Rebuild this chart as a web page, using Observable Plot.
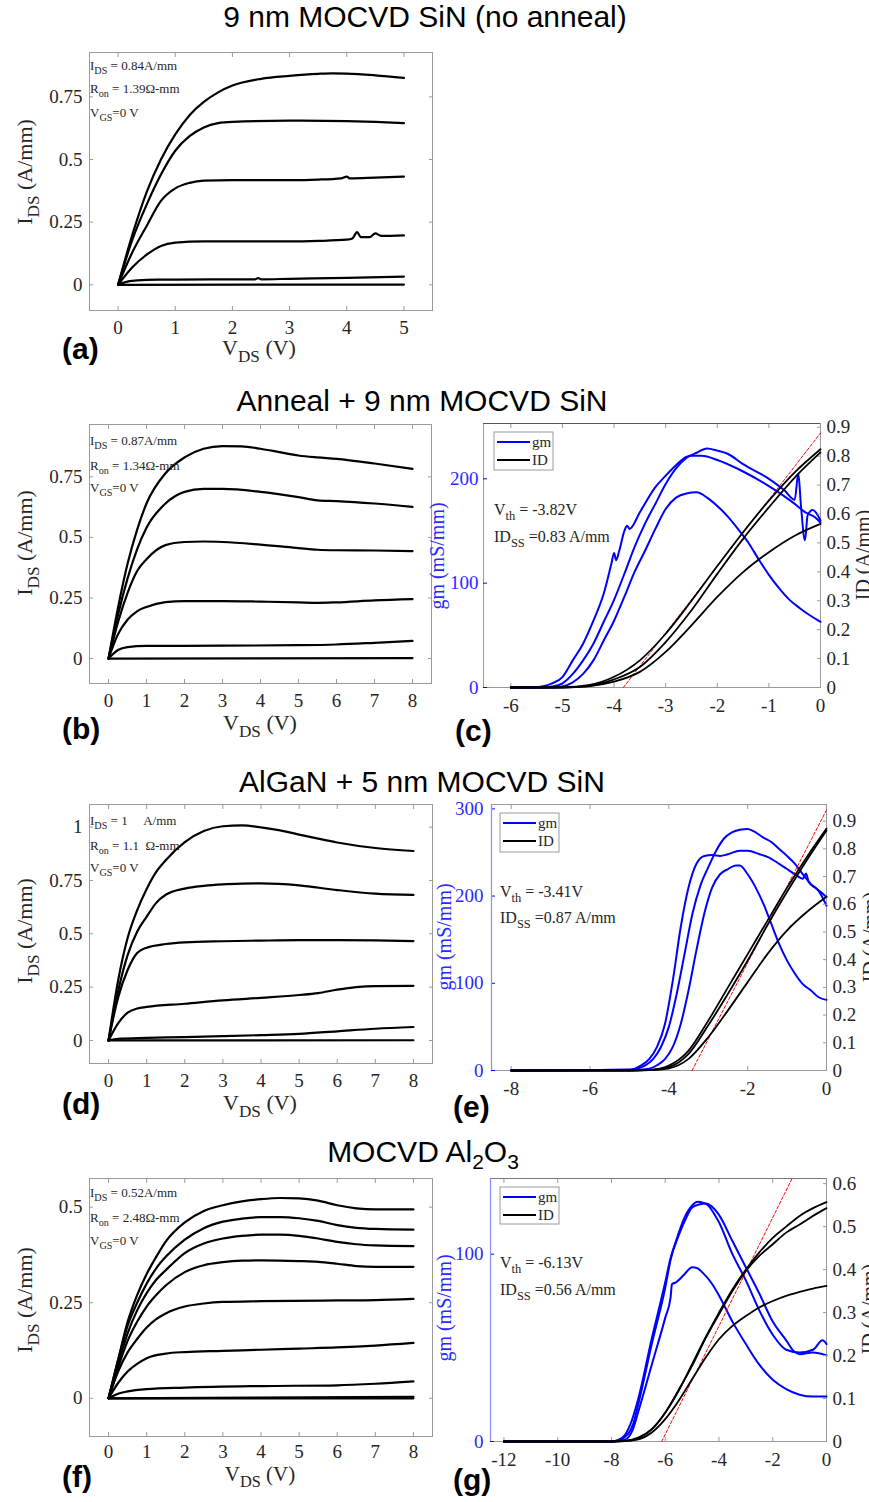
<!DOCTYPE html>
<html><head><meta charset="utf-8">
<script src="https://cdn.jsdelivr.net/npm/d3@7"></script>
<script src="https://cdn.jsdelivr.net/npm/@observablehq/plot@0.6"></script>
<style>
html,body{margin:0;padding:0;background:#fff;}
body{width:869px;height:1502px;position:relative;overflow:hidden;}
</style></head>
<body>
<script>
// ---------- tick values ----------
const aXTicks = [0,1,2,3,4,5];
const bXTicks = [0,1,2,3,4,5,6,7,8];
const aYTicks = [0,0.25,0.5,0.75];
const dYTicks = [0,0.25,0.5,0.75,1];
const fYTicks = [0,0.25,0.5];
const cXTicks = [-6,-5,-4,-3,-2,-1,0];
const eXTicks = [-8,-6,-4,-2,0];
const gXTicks = [-12,-10,-8,-6,-4,-2,0];
const cGmTicks = [0,100,200];
const eGmTicks = [0,100,200,300];
const gGmTicks = [0,100];
const cIdTicks = [0,0.1,0.2,0.3,0.4,0.5,0.6,0.7,0.8,0.9];
const gIdTicks = [0,0.1,0.2,0.3,0.4,0.5,0.6];

// ---------- (a) output curves, no anneal: [VDS, IDS] ----------
const a1 = [[0,0],[0.25,0.2],[0.5,0.37],[0.75,0.5],[1,0.6],[1.25,0.677],[1.5,0.73],[1.75,0.768],[2,0.795],[2.5,0.822],[3,0.834],[3.5,0.842],[3.75,0.844],[4,0.843],[4.5,0.836],[5,0.826]];
const a2 = [[0,0],[0.25,0.18],[0.5,0.32],[0.75,0.44],[1,0.535],[1.25,0.593],[1.5,0.628],[1.75,0.645],[2,0.65],[3,0.655],[4,0.653],[4.5,0.65],[5,0.645]];
const a3 = [[0,0],[0.25,0.13],[0.5,0.235],[0.75,0.335],[1,0.385],[1.25,0.407],[1.5,0.416],[2,0.418],[3,0.418],[3.5,0.42],[3.9,0.425],[4,0.432],[4.05,0.425],[4.5,0.428],[5,0.432]];
const a4 = [[0,0],[0.25,0.07],[0.5,0.12],[0.75,0.155],[1,0.168],[1.5,0.173],[2,0.173],[3,0.173],[3.5,0.175],[4,0.18],[4.1,0.185],[4.18,0.21],[4.25,0.19],[4.4,0.19],[4.5,0.205],[4.6,0.195],[5,0.197]];
const a5 = [[0,0],[0.2,0.015],[0.5,0.02],[1,0.021],[2,0.022],[2.4,0.022],[2.45,0.027],[2.5,0.022],[3,0.024],[4,0.028],[5,0.033]];
const a6 = [[0,0],[5,0.001]];

// ---------- (b) output curves, anneal + 9 nm ----------
const b1 = [[0,0],[0.25,0.21],[0.5,0.39],[0.75,0.53],[1,0.64],[1.5,0.765],[2,0.83],[2.5,0.866],[3,0.877],[3.5,0.876],[4,0.866],[4.5,0.852],[5,0.838],[5.5,0.83],[6,0.824],[7,0.805],[8,0.783]];
const b2 = [[0,0],[0.25,0.18],[0.5,0.33],[0.75,0.45],[1,0.54],[1.5,0.64],[2,0.688],[2.5,0.7],[3,0.7],[4,0.688],[5,0.666],[5.5,0.653],[6,0.65],[7,0.64],[8,0.626]];
const b3 = [[0,0],[0.25,0.15],[0.5,0.27],[0.75,0.36],[1,0.41],[1.5,0.468],[2,0.481],[2.5,0.483],[3,0.481],[4,0.47],[5,0.456],[5.5,0.449],[6,0.447],[7,0.446],[8,0.443]];
const b4 = [[0,0],[0.25,0.1],[0.5,0.16],[0.75,0.195],[1,0.213],[1.5,0.233],[2,0.237],[3,0.237],[4,0.235],[5,0.232],[5.5,0.23],[6,0.232],[7,0.24],[8,0.245]];
const b5 = [[0,0],[0.25,0.035],[0.5,0.047],[1,0.052],[3,0.053],[5,0.055],[6,0.058],[7,0.065],[8,0.073]];
const b6 = [[0,0],[8,0.002]];

// ---------- (d) output curves, AlGaN + 5 nm ----------
const d1 = [[0,0],[0.25,0.28],[0.5,0.48],[0.75,0.61],[1,0.71],[1.25,0.79],[1.5,0.845],[2,0.93],[2.5,0.982],[3,1.004],[3.5,1.008],[4,0.999],[4.5,0.985],[5,0.965],[5.5,0.946],[6,0.928],[7,0.902],[8,0.888]];
const d2 = [[0,0],[0.25,0.23],[0.5,0.4],[0.75,0.51],[1,0.58],[1.25,0.645],[1.5,0.683],[2,0.712],[2.5,0.725],[3,0.732],[3.5,0.735],[4,0.736],[5,0.727],[6,0.705],[7,0.688],[8,0.682]];
const d3 = [[0,0],[0.25,0.2],[0.5,0.33],[0.75,0.41],[1,0.435],[1.5,0.452],[2,0.46],[3,0.465],[4,0.468],[5,0.47],[6,0.47],[7,0.469],[8,0.466]];
const d4 = [[0,0],[0.25,0.08],[0.5,0.13],[0.75,0.15],[1,0.157],[2,0.172],[3,0.188],[4,0.2],[5,0.213],[5.5,0.222],[6,0.238],[6.5,0.25],[7,0.255],[8,0.256]];
const d5 = [[0,0],[0.25,0.008],[1,0.012],[2,0.016],[3,0.02],[4,0.025],[5,0.031],[6,0.043],[7,0.055],[8,0.063]];
const d6 = [[0,0],[8,0.001]];

// ---------- (f) output curves, MOCVD Al2O3 ----------
const f1 = [[0,0],[0.25,0.1],[0.5,0.2],[0.75,0.27],[1,0.325],[1.25,0.37],[1.5,0.41],[2,0.46],[2.5,0.49],[3,0.505],[3.5,0.515],[4,0.521],[4.5,0.524],[5,0.523],[5.5,0.517],[6,0.505],[6.5,0.497],[7,0.494],[8,0.494]];
const f2 = [[0,0],[0.25,0.1],[0.5,0.19],[0.75,0.25],[1,0.3],[1.25,0.34],[1.5,0.37],[2,0.415],[2.5,0.445],[3,0.462],[3.5,0.47],[4,0.474],[4.5,0.474],[5,0.471],[5.5,0.464],[6,0.453],[6.5,0.446],[7,0.443],[8,0.441]];
const f3 = [[0,0],[0.25,0.09],[0.5,0.17],[0.75,0.23],[1,0.275],[1.25,0.31],[1.5,0.335],[2,0.38],[2.5,0.405],[3,0.418],[3.5,0.425],[4,0.428],[4.5,0.428],[5,0.425],[5.5,0.418],[6,0.409],[6.5,0.403],[7,0.4],[8,0.398]];
const f4 = [[0,0],[0.25,0.08],[0.5,0.15],[0.75,0.2],[1,0.24],[1.25,0.27],[1.5,0.295],[2,0.33],[2.5,0.348],[3,0.356],[3.5,0.36],[4,0.361],[5,0.359],[5.5,0.357],[6,0.352],[6.5,0.346],[7,0.344],[8,0.344]];
const f5 = [[0,0],[0.25,0.07],[0.5,0.12],[0.75,0.155],[1,0.185],[1.25,0.207],[1.5,0.222],[2,0.24],[2.5,0.248],[3,0.252],[4,0.254],[6,0.256],[7,0.257],[8,0.26]];
const f6 = [[0,0],[0.25,0.04],[0.5,0.07],[0.75,0.09],[1,0.105],[1.5,0.117],[2,0.121],[3,0.124],[4,0.127],[5,0.13],[6,0.133],[7,0.138],[8,0.145]];
const f7 = [[0,0],[0.25,0.012],[0.5,0.018],[1,0.024],[2,0.028],[4,0.032],[6,0.034],[7,0.038],[8,0.044]];
const f8 = [[0,0],[8,0]];
const f9 = [[0,0],[8,0.004]];

// ---------- (c) transfer: gm [VGS, mS/mm] and ID [VGS, A/mm] ----------
const cGmA = [[-6,0],[-5.6,0],[-5.4,1],[-5.2,4],[-5,10],[-4.8,26],[-4.6,42],[-4.4,64],[-4.2,90],[-4.05,119],[-4.0,129],[-3.96,122],[-3.9,131],[-3.8,150],[-3.75,155],[-3.7,152],[-3.5,168],[-3.2,192],[-3.0,203],[-2.8,213],[-2.6,221],[-2.5,222],[-2.3,222],[-2.0,218],[-1.5,207],[-1.0,193],[-0.5,176],[-0.3,168],[-0.1,163],[0,158]];
const cGmB = [[-6,0],[-5.4,0],[-5.2,1],[-5,4],[-4.8,13],[-4.6,26],[-4.4,42],[-4.2,63],[-4,84],[-3.8,109],[-3.6,135],[-3.4,157],[-3.2,176],[-3,195],[-2.8,210],[-2.6,220],[-2.4,225],[-2.2,229],[-2,227],[-1.8,224],[-1.5,214],[-1,200],[-0.7,189],[-0.5,180],[-0.43,205],[-0.38,175],[-0.3,141],[-0.25,165],[-0.15,170],[0,160]];
const cGmC = [[-6,0],[-5.2,0],[-5,1],[-4.8,5],[-4.6,13],[-4.4,26],[-4.2,45],[-4,64],[-3.8,87],[-3.6,111],[-3.4,131],[-3.2,152],[-3,171],[-2.8,182],[-2.6,186],[-2.4,187],[-2.2,182],[-2,174],[-1.8,164],[-1.6,152],[-1.4,139],[-1.2,123],[-1,108],[-0.8,95],[-0.6,84],[-0.4,76],[-0.2,69],[0,63]];
const cId1 = [[-6,0],[-5,0.001],[-4.5,0.008],[-4,0.037],[-3.5,0.094],[-3,0.186],[-2.5,0.3],[-2,0.42],[-1.5,0.537],[-1,0.646],[-0.5,0.744],[0,0.824]];
const cId2 = [[-6,0],[-5,0],[-4.5,0.005],[-4,0.028],[-3.5,0.071],[-3,0.157],[-2.5,0.267],[-2,0.393],[-1.5,0.514],[-1,0.623],[-0.5,0.726],[0,0.813]];
const cId3 = [[-6,0],[-5,0],[-4.5,0.004],[-4,0.02],[-3.5,0.054],[-3,0.123],[-2.5,0.215],[-2,0.313],[-1.5,0.399],[-1,0.468],[-0.5,0.525],[0,0.566]];
const cFit = [[-3.82,0],[0,0.88]];

// ---------- (e) transfer ----------
const eGmA = [[-8,0],[-5,1],[-4.7,6],[-4.5,13],[-4.3,27],[-4.1,53],[-3.9,103],[-3.7,164],[-3.5,210],[-3.3,237],[-3.1,246],[-2.9,247],[-2.7,246],[-2.5,248],[-2.2,252],[-2,252],[-1.7,248],[-1.5,245],[-1.2,237],[-1,231],[-0.8,225],[-0.6,220],[-0.52,226],[-0.45,216],[-0.3,210],[-0.1,203],[0,199]];
const eGmB = [[-8,0],[-5,1],[-4.6,6],[-4.4,13],[-4.2,27],[-4,50],[-3.8,88],[-3.6,134],[-3.4,180],[-3.2,212],[-3,233],[-2.8,252],[-2.6,266],[-2.4,273],[-2.2,276],[-2,277],[-1.8,273],[-1.6,267],[-1.4,262],[-1.2,254],[-1,246],[-0.8,237],[-0.6,225],[-0.4,214],[-0.2,206],[0,189]];
const eGmC = [[-8,0],[-4.7,1],[-4.5,2],[-4.3,6],[-4.1,13],[-3.9,27],[-3.7,53],[-3.5,92],[-3.3,138],[-3.1,180],[-2.9,210],[-2.7,225],[-2.5,231],[-2.3,235],[-2.2,235],[-2,225],[-1.8,210],[-1.6,191],[-1.4,168],[-1.2,145],[-1,126],[-0.8,111],[-0.6,99],[-0.4,92],[-0.2,84],[0,81]];
const eId1 = [[-8,0],[-5,0],[-4.5,0.002],[-4,0.018],[-3.5,0.072],[-3,0.18],[-2.5,0.3],[-2,0.42],[-1.5,0.54],[-1,0.66],[-0.5,0.77],[0,0.873]];
const eId2 = [[-8,0],[-5,0],[-4.5,0.001],[-4,0.012],[-3.5,0.06],[-3,0.163],[-2.5,0.277],[-2,0.397],[-1.5,0.524],[-1,0.645],[-0.5,0.759],[0,0.866]];
const eId3 = [[-8,0],[-5,0],[-4.5,0.001],[-4,0.008],[-3.5,0.042],[-3,0.12],[-2.5,0.217],[-2,0.319],[-1.5,0.42],[-1,0.506],[-0.5,0.572],[0,0.627]];
const eFit = [[-3.41,0],[0,0.94]];

// ---------- (g) transfer ----------
const gGmA = [[-12,0],[-8,0],[-7.6,2],[-7.3,9],[-7,23],[-6.5,55],[-6,85],[-5.8,98],[-5.6,107],[-5.3,119],[-5,126],[-4.8,128],[-4.6,127.5],[-4.4,126],[-4.2,122],[-4,117],[-3.5,100],[-3,86],[-2.5,70],[-2,57],[-1.5,49],[-1,47.5],[-0.5,49],[-0.15,54],[0,52]];
const gGmB = [[-12,0],[-8,0],[-7.5,2.5],[-7.2,9],[-7,20],[-6.5,52],[-6,82],[-5.8,97],[-5.5,110],[-5.2,120],[-5,125],[-4.7,126.7],[-4.5,127],[-4.3,125.8],[-4,121],[-3.5,107],[-3,93],[-2.5,79],[-2,64],[-1.5,54],[-1.2,48],[-1,46.6],[-0.5,47.5],[0,46]];
const gGmC = [[-12,0],[-8,0],[-7.8,0.5],[-7.5,1],[-7.2,6.6],[-7,16],[-6.5,41],[-6,66],[-5.8,77],[-5.75,84],[-5.6,85],[-5.3,89],[-5,93],[-4.8,92.5],[-4.6,90],[-4.3,85],[-4,78],[-3.5,64],[-3,52],[-2.5,41],[-2,33],[-1.5,28],[-1,25],[-0.5,24],[0,24]];
const gId1 = [[-12,0],[-8,0],[-7.5,0.0015],[-7,0.009],[-6.5,0.029],[-6,0.067],[-5.5,0.118],[-5,0.18],[-4.5,0.242],[-4,0.3],[-3.5,0.354],[-3,0.4],[-2.5,0.44],[-2,0.474],[-1.5,0.5],[-1,0.525],[-0.5,0.543],[0,0.557]];
const gId2 = [[-12,0],[-8,0],[-7.5,0.001],[-7,0.008],[-6.5,0.028],[-6,0.067],[-5.5,0.12],[-5,0.176],[-4.5,0.24],[-4,0.296],[-3.5,0.35],[-3,0.397],[-2.5,0.432],[-2,0.459],[-1.5,0.486],[-1,0.505],[-0.5,0.525],[0,0.543]];
const gId3 = [[-12,0],[-8,0],[-7.5,0.001],[-7,0.005],[-6.5,0.021],[-6,0.052],[-5.5,0.095],[-5,0.145],[-4.5,0.195],[-4,0.238],[-3.5,0.269],[-3,0.292],[-2.5,0.312],[-2,0.327],[-1.5,0.339],[-1,0.348],[-0.5,0.356],[0,0.362]];
const gFit = [[-6.13,0],[-1.28,0.612]];

// ---------- layout & styling ----------
const sans = "'Liberation Sans', Arial, sans-serif";
const serif = "'Liberation Serif', 'Times New Roman', serif";
const gray = "#9a9a9a", dark = "#262626", blue = "#0000ff", tickBlue = "#2a2aff";
const M = {l: 80, r: 70, t: 20, b: 45};
const fmt = d => String(d);
const none = () => "";
const xy = {x: d => d[0], y: d => d[1]};

function mount(svg, f) {
  svg.style.position = "absolute";
  svg.style.left = (f.L - M.l) + "px";
  svg.style.top = (f.T - M.t) + "px";
  svg.style.background = "transparent";
  svg.style.overflow = "visible";
  svg.style.maxWidth = "none";
  svg.style.fontFamily = serif;
  svg.style.fontSize = "19px";
  svg.setAttribute("font-family", serif);
  svg.setAttribute("font-size", 19);
  document.body.appendChild(svg);
}
function base(f, xDomain, yDomain, marks) {
  return Plot.plot({
    width: f.R - f.L + M.l + M.r, height: f.B - f.T + M.t + M.b,
    marginLeft: M.l, marginRight: M.r, marginTop: M.t, marginBottom: M.b,
    x: {domain: xDomain, axis: null, label: null},
    y: {domain: yDomain, axis: null, label: null},
    style: {"background": "transparent", "overflow": "visible", "font-family": serif, "font-size": "19px", "max-width": "none"},
    marks
  });
}
function curves(list, stroke, sw) {
  return list.map(c => Plot.line(c, {...xy, stroke, strokeWidth: sw, curve: "monotone-x", strokeLinejoin: "round"}));
}
function outputPanel(f, xD, yD, xT, yT, list, xPad) {
  mount(base(f, xD, yD, [
    Plot.frame({stroke: gray}),
    Plot.axisX(xT, {anchor: "bottom", tickSize: -4, tickPadding: xPad || 14, tickFormat: fmt, stroke: gray, fill: dark, label: null}),
    Plot.axisX(xT, {anchor: "top", tickSize: -4, tickFormat: none, stroke: gray, label: null}),
    Plot.axisY(yT, {anchor: "left", tickSize: -4, tickPadding: 11, tickFormat: fmt, stroke: gray, fill: dark, label: null}),
    Plot.axisY(yT, {anchor: "right", tickSize: -4, tickFormat: none, stroke: gray, label: null}),
    ...curves(list, "#000", 2.2)
  ]), f);
}
function transferPanel(f, xD, gmD, idD, xT, gmT, idT, gmList, idList, fit, gmPad, blueSpine, topStroke) {
  const gmMarks = [
    Plot.frame({stroke: gray}),
    Plot.axisX(xT, {anchor: "bottom", tickSize: -4, tickPadding: 15, tickFormat: fmt, stroke: gray, fill: dark, label: null}),
    Plot.axisX(xT, {anchor: "top", tickSize: -4, tickFormat: none, stroke: gray, label: null}),
    Plot.axisY(gmT, {anchor: "left", tickSize: -4, tickPadding: gmPad, tickFormat: fmt, stroke: blue, fill: tickBlue, label: null}),
    ...curves(gmList, blue, 2)
  ];
  if (topStroke) gmMarks.push(Plot.ruleY([gmD[1]], {stroke: topStroke, strokeWidth: 1.2}));
  if (blueSpine) gmMarks.push(Plot.ruleX([xD[0]], {stroke: "#8c8cff", strokeWidth: 1.2}));
  mount(base(f, xD, gmD, gmMarks), f);
  mount(base(f, xD, idD, [
    Plot.axisY(idT, {anchor: "right", tickSize: -4, tickPadding: 10, tickFormat: fmt, stroke: gray, fill: dark, label: null}),
    Plot.line(fit, {...xy, stroke: "#ff0000", strokeWidth: 1, strokeDasharray: "3,2"}),
    ...curves(idList, "#000", 1.8)
  ]), f);
}

const FA = {L: 89, R: 432, T: 52, B: 310};
const FB = {L: 89, R: 431, T: 424, B: 683};
const FC = {L: 483, R: 820, T: 423, B: 687};
const FD = {L: 89, R: 432, T: 804, B: 1063};
const FE = {L: 491, R: 826, T: 804, B: 1070};
const FF = {L: 89, R: 432, T: 1178, B: 1436};
const FG = {L: 490, R: 826, T: 1178, B: 1441};

outputPanel(FA, [-0.5, 5.5], [-0.1025, 0.927], aXTicks, aYTicks, [a1,a2,a3,a4,a5,a6]);
outputPanel(FB, [-0.5, 8.5], [-0.103, 0.966], bXTicks, aYTicks, [b1,b2,b3,b4,b5,b6]);
outputPanel(FD, [-0.5, 8.5], [-0.108, 1.106], bXTicks, dYTicks, [d1,d2,d3,d4,d5,d6]);
outputPanel(FF, [-0.5, 8.5], [-0.1, 0.575], bXTicks, fYTicks, [f1,f2,f3,f4,f5,f6,f7,f8,f9], 12);
transferPanel(FC, [-6.53, 0], [0, 253], [0, 0.913], cXTicks, cGmTicks, cIdTicks, [cGmA,cGmB,cGmC], [cId1,cId2,cId3], cFit, 9, false, "#555");
transferPanel(FE, [-8.5, 0], [0, 305], [0, 0.96], eXTicks, eGmTicks, cIdTicks, [eGmA,eGmB,eGmC], [eId1,eId2,eId3], eFit, 12, true, null);
transferPanel(FG, [-12.5, 0], [0, 140.4], [0, 0.612], gXTicks, gGmTicks, gIdTicks, [gGmA,gGmB,gGmC], [gId1,gId2,gId3], gFit, 11, true, "#777");

// ---------- text overlay (plain SVG) ----------
const NS = "http://www.w3.org/2000/svg";
function el(tag, attrs, parent) {
  const e = document.createElementNS(NS, tag);
  for (const k in attrs) if (attrs[k] != null) e.setAttribute(k, attrs[k]);
  parent.appendChild(e);
  return e;
}
const ov = document.createElementNS(NS, "svg");
ov.setAttribute("width", 869); ov.setAttribute("height", 1502);
ov.style.position = "absolute"; ov.style.left = "0px"; ov.style.top = "0px"; ov.style.pointerEvents = "none";
document.body.appendChild(ov);

function txt(x, y, s, o) {
  const size = o.size;
  const t = el("text", {
    "font-family": o.family || serif, "font-size": size, fill: o.fill || "#000",
    "text-anchor": o.anchor || "start", "font-weight": o.weight || null
  }, ov);
  t.style.whiteSpace = "pre";
  if (o.rotate) t.setAttribute("transform", `translate(${x},${y}) rotate(${o.rotate})`);
  else { t.setAttribute("x", x); t.setAttribute("y", y); }
  const sh = size * (o.subShift || 0.3);
  let down = false;
  for (const part of s.split(/(_\{[^}]*\})/)) {
    if (!part) continue;
    if (part.startsWith("_{")) {
      const sp = el("tspan", {dy: sh, "font-size": size * (o.subScale || 0.78)}, t);
      sp.textContent = part.slice(2, -1);
      down = true;
    } else {
      const sp = el("tspan", {dy: down ? -sh : null}, t);
      sp.textContent = part;
      down = false;
    }
  }
  return t;
}

// titles
txt(425, 27, "9 nm MOCVD SiN (no anneal)", {family: sans, size: 30, anchor: "middle"});
txt(422, 411, "Anneal + 9 nm MOCVD SiN", {family: sans, size: 30, anchor: "middle"});
txt(422, 792, "AlGaN + 5 nm MOCVD SiN", {family: sans, size: 30, anchor: "middle"});
txt(423, 1162, "MOCVD Al_{2}O_{3}", {family: sans, size: 30, anchor: "middle", subShift: 0.22, subScale: 0.7});

// panel letters
const letter = {family: sans, size: 30, weight: "bold"};
txt(62, 359, "(a)", letter);
txt(62, 739, "(b)", letter);
txt(455, 741, "(c)", letter);
txt(62, 1114, "(d)", letter);
txt(453, 1117, "(e)", letter);
txt(62, 1487, "(f)", letter);
txt(453, 1490, "(g)", letter);

// output axis labels
const axl = {size: 22, fill: dark, anchor: "middle"};
txt(259, 355, "V_{DS} (V)", axl);
txt(260, 730, "V_{DS} (V)", axl);
txt(260, 1110, "V_{DS} (V)", axl);
txt(260, 1481, "V_{DS} (V)", {...axl, size: 21});
txt(32, 172, "I_{DS} (A/mm)", {...axl, rotate: -90});
txt(32, 543, "I_{DS} (A/mm)", {...axl, rotate: -90});
txt(32, 931, "I_{DS} (A/mm)", {...axl, rotate: -90});
txt(32, 1300, "I_{DS} (A/mm)", {...axl, rotate: -90});

// transfer axis labels
const gml = {size: 20, fill: tickBlue, anchor: "middle", rotate: -90};
txt(444, 556, "gm (mS/mm)", gml);
txt(451, 937, "gm (mS/mm)", gml);
txt(451, 1308, "gm (mS/mm)", gml);
const idl = {size: 20, fill: dark, anchor: "middle", rotate: -90};
txt(870, 555, "ID (A/mm)", idl);
txt(877, 937, "ID (A/mm)", idl);
txt(876, 1309, "ID (A/mm)", idl);

// annotations in output panels
const ann = {size: 13, fill: dark};
[[70, 93, 117, "0.84A/mm", "1.39Ω-mm"],
 [445, 470, 492, "0.87A/mm", "1.34Ω-mm"],
 [825, 850, 872, "1     A/mm", "1.1  Ω-mm"],
 [1197, 1222, 1245, "0.52A/mm", "2.48Ω-mm"]].forEach(([y1, y2, y3, i, r]) => {
  txt(90, y1, "I_{DS} = " + i, ann);
  txt(90, y2, "R_{on} = " + r, ann);
  txt(90, y3, "V_{GS}=0 V", ann);
});

// annotations in transfer panels
const vt = {size: 16, fill: dark};
txt(494, 515, "V_{th} = -3.82V", vt);
txt(494, 542, "ID_{SS} =0.83 A/mm", vt);
txt(500, 897, "V_{th} = -3.41V", vt);
txt(500, 923, "ID_{SS} =0.87 A/mm", vt);
txt(500, 1268, "V_{th} = -6.13V", vt);
txt(500, 1295, "ID_{SS} =0.56 A/mm", vt);

// legends
function legend(x, y, h) {
  el("rect", {x, y, width: 59, height: h, fill: "#fff", stroke: "#9a9a9a", "stroke-width": 1}, ov);
  el("line", {x1: x + 3, x2: x + 36, y1: y + 10, y2: y + 10, stroke: blue, "stroke-width": 2}, ov);
  el("line", {x1: x + 3, x2: x + 36, y1: y + 28, y2: y + 28, stroke: "#000", "stroke-width": 2}, ov);
  txt(x + 38, y + 15, "gm", {size: 15, fill: dark});
  txt(x + 38, y + 33, "ID", {size: 15, fill: dark});
}
legend(494, 432, 38);
legend(500, 813, 39);
legend(500, 1187, 37);
</script>
</body></html>
